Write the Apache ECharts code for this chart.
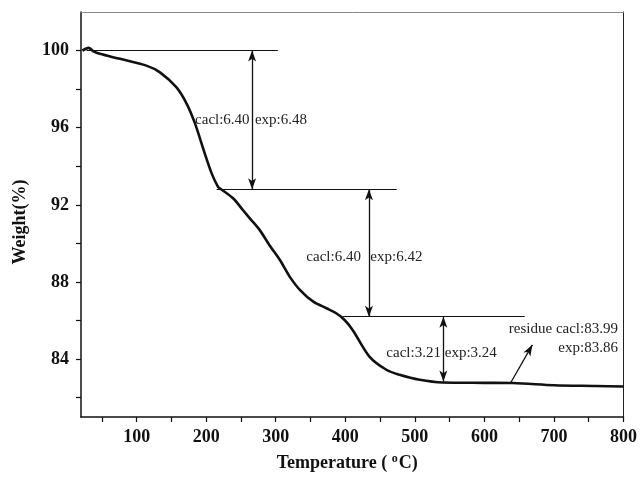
<!DOCTYPE html>
<html>
<head>
<meta charset="utf-8">
<title>TGA Curve</title>
<style>
    body {
        margin: 0;
        background: #fff;
    }

    #chart {
        width: 640px;
        height: 482px;
    }
</style>
<script src="https://cdn.jsdelivr.net/npm/echarts@6/dist/echarts.min.js"></script>
</head>
<body>
<div id="chart"></div>
<script>
    // TGA curve
    var temperature = [22, 31, 38, 47, 76, 114, 133, 157, 172, 184, 198, 208, 217, 220, 239, 253, 263, 277, 291, 306,
        320, 335, 354, 373, 387, 399, 411, 435, 459, 478, 507, 540, 600, 641, 700, 760, 800];
    var weight = [100.0, 100.14, 99.96, 99.83, 99.57, 99.22, 98.88, 98.10, 97.24, 96.21, 94.66, 93.62, 92.93, 92.85,
        92.33, 91.72, 91.29, 90.69, 89.91, 89.14, 88.28, 87.58, 86.98, 86.64, 86.38, 86.03, 85.49, 84.12, 83.45, 83.19,
        82.93, 82.79, 82.77, 82.76, 82.65, 82.61, 82.58];

    var xTickLabels = [100, 200, 300, 400, 500, 600, 700, 800];
    var xTicks = [50, 100, 150, 200, 250, 300, 350, 400, 450, 500, 550, 600, 650, 700, 750, 800];
    var yTickLabels = [84, 88, 92, 96, 100];
    var yTicks = [82, 84, 86, 88, 90, 92, 94, 96, 98, 100];

    // step levels: [weight, from temperature, to temperature]
    var stepLevels = [[100.0, 28, 303], [92.81, 215, 474], [86.20, 396, 658]];
    // double arrows: [temperature, top weight, bottom weight]
    var stepArrows = [[266, 100.0, 92.81], [434, 92.81, 86.20], [541, 86.20, 82.84]];
    // residue pointer: [from, to]
    var pointer = [[638, 82.79], [669, 84.74]];
    // notes: [temperature, weight, text, side]
    var notes = [
        [184, 96.41, 'cacl:6.40', 'left'],
        [270, 96.41, 'exp:6.48', 'left'],
        [344, 89.31, 'cacl:6.40', 'left'],
        [436, 89.31, 'exp:6.42', 'left'],
        [459, 84.31, 'cacl:3.21', 'left'],
        [543, 84.31, 'exp:3.24', 'left'],
        [792, 85.55, 'residue cacl:83.99', 'right'],
        [792, 84.57, 'exp:83.86', 'right']
    ];

    var serif = '"Liberation Serif", "Times New Roman", serif';

    var curve = temperature.map(function (t, i) {
        return [t, weight[i]];
    });

    var levelLines = stepLevels.map(function (s) {
        return [{ coord: [s[1], s[0]] }, { coord: [s[2], s[0]] }];
    });

    var arrowLines = stepArrows.map(function (a) {
        return [{ coord: [a[0], a[1]] }, { coord: [a[0], a[2]] }];
    });

    var noteItems = notes.map(function (n) {
        return {
            coord: [n[0], n[1]],
            value: n[2],
            label: {
                position: n[3] === 'left' ? 'right' : 'left',
                distance: 0
            }
        };
    });

    var chart = echarts.init(document.getElementById('chart'));

    var option = {
        animation: false,
        backgroundColor: '#fff',
        grid: {
            left: 81,
            right: 16,
            top: 12,
            bottom: 65
        },
        xAxis: [{
            type: 'value',
            min: 20,
            max: 800,
            name: 'Temperature ( {sup|o}C)',
            nameLocation: 'middle',
            nameGap: 36,
            nameTextStyle: {
                fontFamily: serif,
                fontWeight: 'bold',
                fontSize: 18,
                color: '#111',
                padding: [0, 10, 0, 0],
                rich: {
                    sup: {
                        fontFamily: serif,
                        fontWeight: 'bold',
                        fontSize: 12,
                        verticalAlign: 'top',
                        padding: [0, 1, 8, 0]
                    }
                }
            },
            splitLine: { show: false },
            axisLine: { onZero: false, lineStyle: { color: '#111', width: 1.5 } },
            axisTick: { customValues: xTicks, length: 5, lineStyle: { color: '#111', width: 1.2 } },
            axisLabel: {
                customValues: xTickLabels,
                margin: 11,
                fontFamily: serif,
                fontWeight: 'bold',
                fontSize: 18,
                color: '#111'
            }
        }, {
            type: 'value',
            position: 'top',
            min: 20,
            max: 800,
            splitLine: { show: false },
            axisLine: { onZero: false, lineStyle: { color: '#888', width: 1 } },
            axisTick: { show: false },
            axisLabel: { show: false }
        }],
        yAxis: [{
            type: 'value',
            min: 81,
            max: 102,
            name: 'Weight(%)',
            nameLocation: 'middle',
            nameGap: 52,
            nameTextStyle: {
                fontFamily: serif,
                fontWeight: 'bold',
                fontSize: 18,
                color: '#111',
                padding: [0, 15, 0, 0]
            },
            splitLine: { show: false },
            axisLine: { onZero: false, lineStyle: { color: '#111', width: 1.5 } },
            axisTick: { customValues: yTicks, length: 5, lineStyle: { color: '#111', width: 1.2 } },
            axisLabel: {
                customValues: yTickLabels,
                margin: 12,
                fontFamily: serif,
                fontWeight: 'bold',
                fontSize: 18,
                color: '#111'
            }
        }, {
            type: 'value',
            position: 'right',
            min: 81,
            max: 102,
            splitLine: { show: false },
            axisLine: { show: true, onZero: false, lineStyle: { color: '#222', width: 1 } },
            axisTick: { show: false },
            axisLabel: { show: false }
        }],
        series: [{
            type: 'line',
            data: curve,
            smooth: 0.3,
            showSymbol: false,
            lineStyle: { color: '#111', width: 2.6 },
            markPoint: {
                symbol: 'circle',
                symbolSize: 0,
                label: {
                    show: true,
                    formatter: '{c}',
                    fontFamily: serif,
                    fontSize: 15,
                    color: '#222'
                },
                data: noteItems
            }
        }, {
            type: 'line',
            data: [],
            markLine: {
                silent: true,
                symbol: ['none', 'none'],
                label: { show: false },
                lineStyle: { color: '#111', width: 1.2, type: 'solid' },
                data: levelLines
            }
        }, {
            type: 'line',
            data: [],
            markLine: {
                silent: true,
                symbol: ['arrow', 'arrow'],
                symbolSize: [6, 11],
                label: { show: false },
                lineStyle: { color: '#111', width: 1.3, type: 'solid' },
                data: arrowLines
            }
        }, {
            type: 'line',
            data: [],
            markLine: {
                silent: true,
                symbol: ['none', 'arrow'],
                symbolSize: [6, 11],
                label: { show: false },
                lineStyle: { color: '#111', width: 1.3, type: 'solid' },
                data: [[{ coord: pointer[0] }, { coord: pointer[1] }]]
            }
        }]
    };

    chart.setOption(option);
</script>
</body>
</html>
